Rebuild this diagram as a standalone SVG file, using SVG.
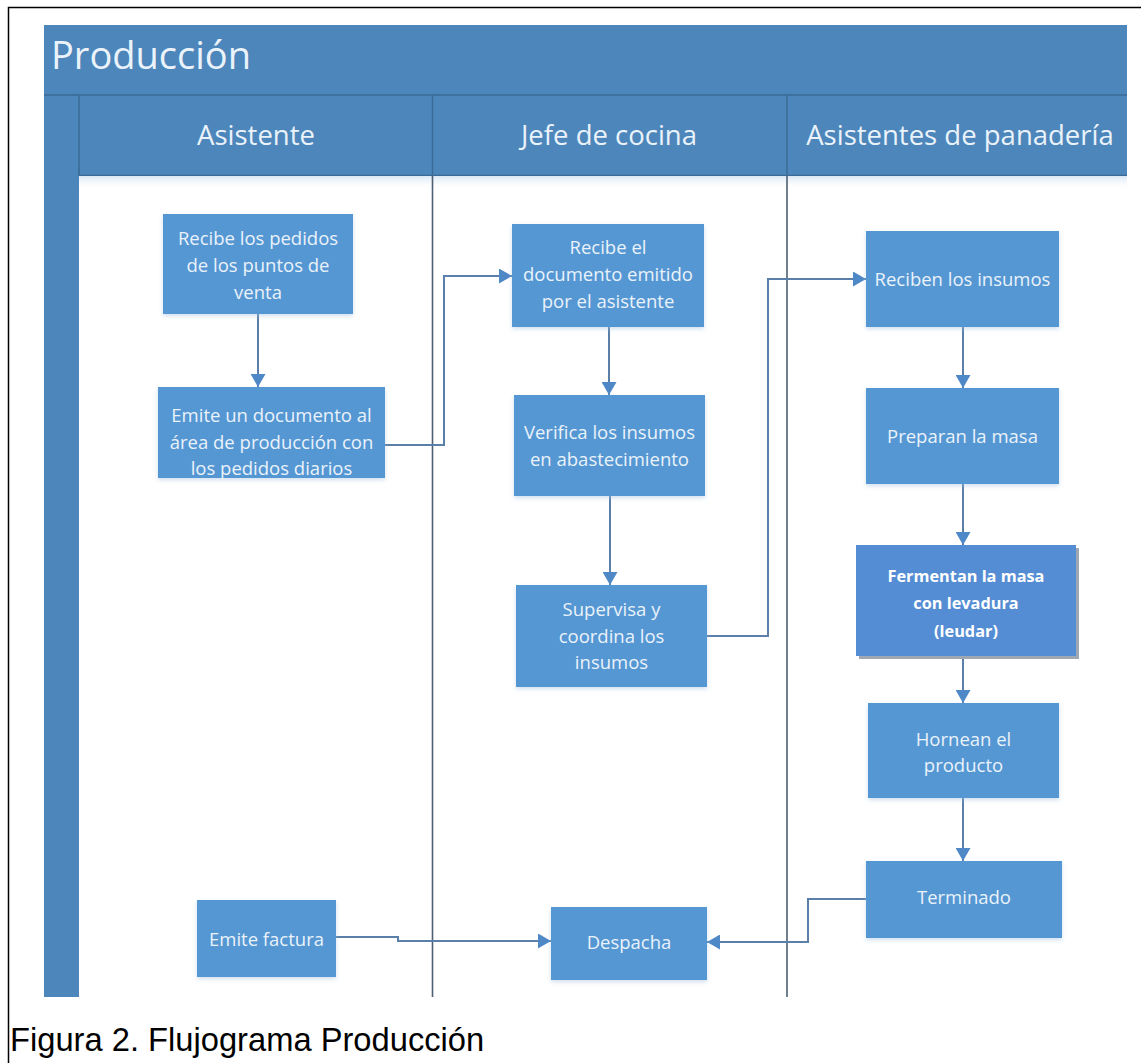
<svg xmlns="http://www.w3.org/2000/svg" width="1142" height="1063" viewBox="0 0 1142 1063">
<defs>
<style>
.hdr{fill:#4d86ba}
.sep{stroke:#3b6a96;stroke-width:1.5;fill:none}
.div{stroke:#4d5f72;stroke-width:1.6;fill:none}
.node{fill:#5597d3}
.ntxt{font-family:"Open Sans","Noto Sans",sans-serif;font-size:18.5px;fill:#eaf2fa;text-anchor:middle}
.btxt{font-family:"Open Sans","Noto Sans",sans-serif;font-size:16.3px;font-weight:bold;fill:#ffffff;text-anchor:middle}
.lane{font-family:"Open Sans","Noto Sans",sans-serif;font-size:27.5px;fill:#eaf2fa;text-anchor:middle}
.title{font-family:"Open Sans","Noto Sans",sans-serif;font-size:38px;fill:#eaf2fa}
.conn{stroke:#5a7fa8;stroke-width:2;fill:none}
.cap{font-family:"Liberation Sans",Arial,sans-serif;font-size:32.7px;fill:#000}
</style>
<marker id="ah" viewBox="0 0 13 15" refX="13" refY="7.5" markerWidth="13" markerHeight="15" orient="auto" markerUnits="userSpaceOnUse">
<path d="M0,0 L13,7.5 L0,15 z" fill="#4f88c6"/>
</marker>
<linearGradient id="shade" x1="0" y1="0" x2="0" y2="1">
<stop offset="0" stop-color="#dbe8f4"/>
<stop offset="1" stop-color="#ffffff" stop-opacity="0"/>
</linearGradient>
<filter id="soft" x="-10%" y="-10%" width="120%" height="125%">
<feDropShadow dx="0" dy="2" stdDeviation="2" flood-color="#9fc0e0" flood-opacity="0.5"/>
</filter>
</defs>
<rect x="0" y="0" width="1142" height="1063" fill="#ffffff"/>
<path d="M8.5,1063 V7.5 H1141" stroke="#000" stroke-width="1.5" fill="none"/>

<g id="pool">
<rect class="hdr" x="44" y="25" width="1083" height="151"/>
<rect class="hdr" x="44" y="25" width="35" height="972"/>
<line class="sep" x1="44" y1="95" x2="1127" y2="95"/>
<line class="sep" x1="79" y1="95" x2="79" y2="176"/>
<line class="sep" x1="79" y1="175.5" x2="1127" y2="175.5"/>
<rect x="79" y="176" width="1048" height="14" fill="url(#shade)"/>
<text class="title" x="51" y="69">Producción</text>
</g>

<g id="lanes">
<line class="sep" x1="432.5" y1="95" x2="432.5" y2="176"/>
<line class="sep" x1="787" y1="95" x2="787" y2="176"/>
<line class="div" x1="432.5" y1="176" x2="432.5" y2="997"/>
<line class="div" x1="787" y1="176" x2="787" y2="997"/>
<text class="lane" x="256" y="145">Asistente</text>
<text class="lane" x="609" y="145">Jefe de cocina</text>
<text class="lane" x="960" y="145">Asistentes de panadería</text>
</g>

<g id="connectors">
<path class="conn" d="M258,314 V387" marker-end="url(#ah)"/>
<path class="conn" d="M385,445 H444 V276 H512" marker-end="url(#ah)"/>
<path class="conn" d="M609,327 V395" marker-end="url(#ah)"/>
<path class="conn" d="M610,496 V585" marker-end="url(#ah)"/>
<path class="conn" d="M707,636 H768 V279 H866" marker-end="url(#ah)"/>
<path class="conn" d="M963,327 V388" marker-end="url(#ah)"/>
<path class="conn" d="M963,484 V545" marker-end="url(#ah)"/>
<path class="conn" d="M963,656 V703" marker-end="url(#ah)"/>
<path class="conn" d="M963,798 V861" marker-end="url(#ah)"/>
<path class="conn" d="M866,899 H808 V942 H707" marker-end="url(#ah)"/>
<path class="conn" d="M336,937 H398 V941 H551" marker-end="url(#ah)"/>
</g>

<g id="n1"><rect class="node" filter="url(#soft)" x="163" y="214" width="190" height="100"/>
<text class="ntxt" x="258" y="245">Recibe los pedidos</text>
<text class="ntxt" x="258" y="272">de los puntos de</text>
<text class="ntxt" x="258" y="299">venta</text></g>

<g id="n2"><rect class="node" filter="url(#soft)" x="158" y="387" width="227" height="91"/>
<text class="ntxt" x="271.5" y="422">Emite un documento al</text>
<text class="ntxt" x="271.5" y="449">área de producción con</text>
<text class="ntxt" x="271.5" y="475">los pedidos diarios</text></g>

<g id="n3"><rect class="node" filter="url(#soft)" x="512" y="224" width="192" height="103"/>
<text class="ntxt" x="608" y="254">Recibe el</text>
<text class="ntxt" x="608" y="281">documento emitido</text>
<text class="ntxt" x="608" y="308">por el asistente</text></g>

<g id="n4"><rect class="node" filter="url(#soft)" x="514" y="395" width="191" height="101"/>
<text class="ntxt" x="609.5" y="439">Verifica los insumos</text>
<text class="ntxt" x="609.5" y="466">en abastecimiento</text></g>

<g id="n5"><rect class="node" filter="url(#soft)" x="516" y="585" width="191" height="102"/>
<text class="ntxt" x="611.5" y="616">Supervisa y</text>
<text class="ntxt" x="611.5" y="643">coordina los</text>
<text class="ntxt" x="611.5" y="669">insumos</text></g>

<g id="n6"><rect class="node" filter="url(#soft)" x="866" y="231" width="193" height="96"/>
<text class="ntxt" x="962.5" y="286">Reciben los insumos</text></g>

<g id="n7"><rect class="node" filter="url(#soft)" x="866" y="388" width="193" height="96"/>
<text class="ntxt" x="962.5" y="443">Preparan la masa</text></g>

<g id="n8"><rect x="859" y="548" width="220" height="111" fill="#9ea7b2"/>
<rect x="856" y="545" width="220" height="111" fill="#548dd4"/>
<text class="btxt" x="966" y="582">Fermentan la masa</text>
<text class="btxt" x="966" y="609">con levadura</text>
<text class="btxt" x="966" y="637">(leudar)</text></g>

<g id="n9"><rect class="node" filter="url(#soft)" x="868" y="703" width="191" height="95"/>
<text class="ntxt" x="963.5" y="746">Hornean el</text>
<text class="ntxt" x="963.5" y="772">producto</text></g>

<g id="n10"><rect class="node" filter="url(#soft)" x="866" y="861" width="196" height="77"/>
<text class="ntxt" x="964" y="904">Terminado</text></g>

<g id="n11"><rect class="node" filter="url(#soft)" x="197" y="900" width="139" height="77"/>
<text class="ntxt" x="266.5" y="946">Emite factura</text></g>

<g id="n12"><rect class="node" filter="url(#soft)" x="551" y="907" width="156" height="73"/>
<text class="ntxt" x="629" y="949">Despacha</text></g>

<text class="cap" x="10" y="1051">Figura 2. Flujograma Producción</text>
</svg>
